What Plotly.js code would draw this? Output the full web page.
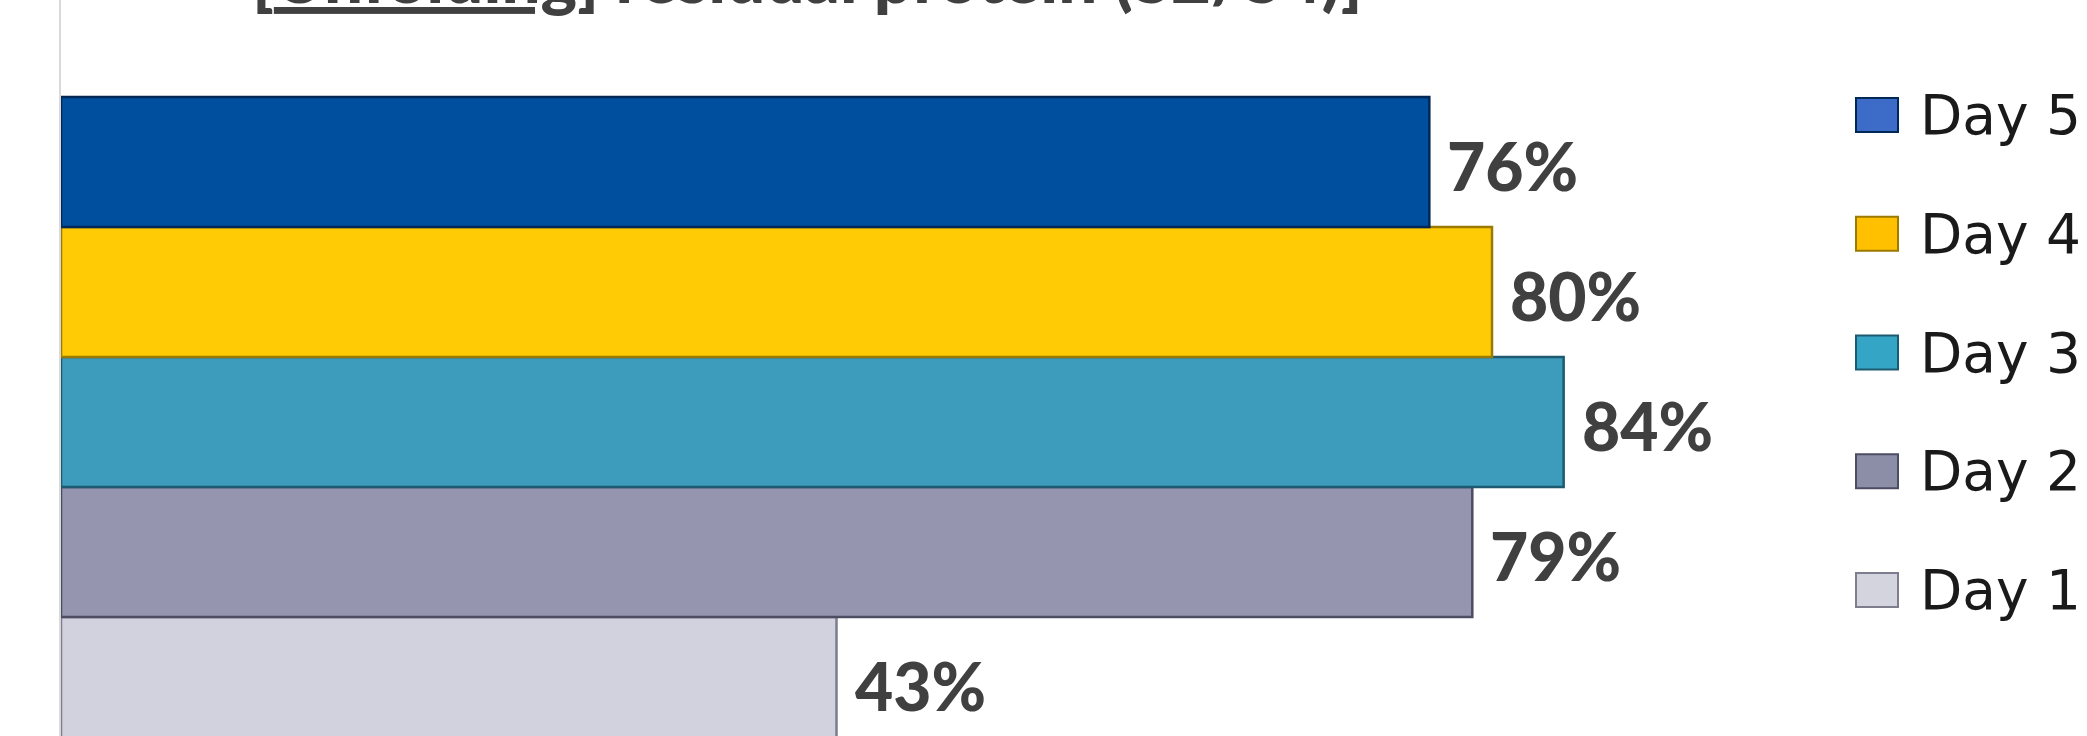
<!DOCTYPE html>
<html>
<head>
<meta charset="utf-8">
<script src="https://cdn.plot.ly/plotly-3.0.1.min.js"></script>
<style>
  html, body { margin: 0; padding: 0; background: #fff; }
  #chart { width: 2087px; height: 736px; }
</style>
</head>
<body>
<div id="chart"></div>
<script>
'use strict'

// data, bottom bar first
var days = ['Day 1', 'Day 2', 'Day 3', 'Day 4', 'Day 5'];
var values = [43.3, 78.8, 83.9, 79.9, 76.4];
var barColors = ['#d2d2de', '#9595b0', '#3d9bbc', '#fecb05', '#004f9f'];
var edgeColors = ['#7d7d8e', '#4c4c62', '#1d5a70', '#9a7a00', '#002856'];
var legendColors = ['#d3d4de', '#8c8ea8', '#35a5c6', '#ffc000', '#3d6cc8'];
var titleText = '[<u>Unfolding</u>] residual protein (S2/S4)]';

var W = 2087, H = 736;
var margin = {l: 61, r: 235, t: 0, b: 0};

function paperX(px) { return (px - margin.l) / (W - margin.l - margin.r); }
function paperY(py) { return 1 - py / H; }

var data = [];
var annotations = [];
var shapes = [];

for (var i = 0; i < days.length; i++) {
  data.push({
    type: 'bar',
    orientation: 'h',
    name: days[i],
    x: [values[i]],
    y: [i],
    width: 1,
    marker: {
      color: barColors[i],
      line: {color: edgeColors[i], width: 2.5}
    },
    hoverinfo: 'skip'
  });
  // value label at the bar end
  annotations.push({
    x: values[i], y: i, xref: 'x', yref: 'y',
    text: Math.round(values[i]) + '%',
    showarrow: false, xanchor: 'left', yanchor: 'middle',
    xshift: 16, yshift: -3,
    font: {family: 'Lato, sans-serif', size: 66, weight: 900, color: '#404040'}
  });
  // legend entry
  var cy = 590 - i * 118.75;
  shapes.push({
    type: 'rect', xref: 'paper', yref: 'paper',
    x0: paperX(1856), x1: paperX(1898),
    y0: paperY(cy + 17), y1: paperY(cy - 17),
    fillcolor: legendColors[i],
    line: {color: edgeColors[i], width: 2}
  });
  annotations.push({
    x: paperX(1918), y: paperY(cy), xref: 'paper', yref: 'paper',
    text: days[i], showarrow: false, xanchor: 'left', yanchor: 'middle',
    font: {family: 'DejaVu Sans, sans-serif', size: 55, color: '#1a1a1a'}
  });
}

// title, mostly cut off by the top edge
annotations.push({
  x: paperX(250), y: 1, xref: 'paper', yref: 'paper',
  text: titleText,
  showarrow: false, xanchor: 'left', yanchor: 'middle', yshift: 24,
  font: {family: 'Lato, sans-serif', size: 69, weight: 900, color: '#404040'}
});

var layout = {
  width: W, height: H,
  margin: margin,
  paper_bgcolor: '#ffffff',
  plot_bgcolor: '#ffffff',
  showlegend: false,
  barmode: 'overlay',
  xaxis: {
    range: [0, 100],
    showgrid: false, zeroline: false, showline: false,
    showticklabels: false, ticks: ''
  },
  yaxis: {
    range: [-0.415, 5.246],
    showgrid: false, zeroline: false,
    showline: true, linecolor: '#d9d9d9', linewidth: 2,
    showticklabels: false, ticks: ''
  },
  annotations: annotations,
  shapes: shapes
};

Plotly.newPlot('chart', data, layout, {displayModeBar: false, staticPlot: true});
</script>
</body>
</html>
